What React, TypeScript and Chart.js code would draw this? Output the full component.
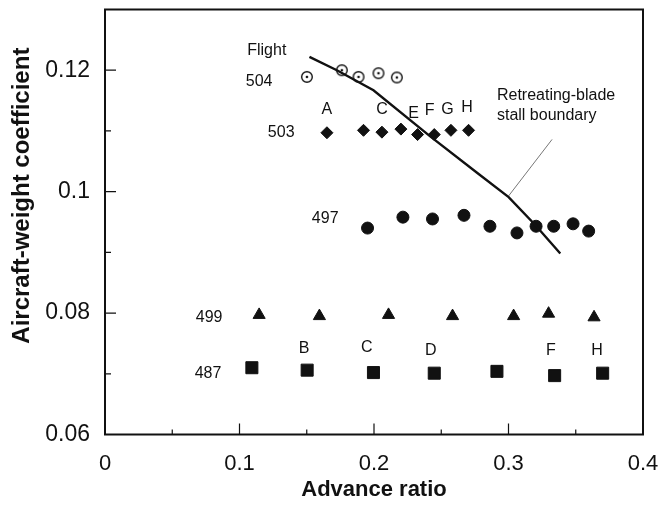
import React, { useEffect, useRef } from 'react';
import { Chart, registerables } from 'chart.js';

Chart.register(...registerables);

const FONT = "'Liberation Sans', Arial, Helvetica, sans-serif";
const INK = '#111111';

// Axis ticks
const X_TICKS = [0, 0.1, 0.2, 0.3, 0.4];
const X_TICK_LABELS = ['0', '0.1', '0.2', '0.3', '0.4'];
const X_MINOR_TICKS = [0.05, 0.15, 0.25, 0.35];
const Y_TICKS = [0.06, 0.08, 0.1, 0.12];
const Y_TICK_LABELS = ['0.06', '0.08', '0.1', '0.12'];
const Y_MINOR_TICKS = [0.07, 0.09, 0.11];

// Flight 504 (open circles with centre dot)
const F504_X = [0.1501, 0.1761, 0.1885, 0.2033, 0.217];
const F504_Y = [0.1189, 0.12, 0.1189, 0.1195, 0.1188];

// Flight 503 (diamonds)
const F503_X = [0.165, 0.1922, 0.2059, 0.22, 0.2324, 0.2448, 0.2572, 0.2703];
const F503_Y = [0.1097, 0.1101, 0.1098, 0.1103, 0.1094, 0.1094, 0.1101, 0.1101];

// Flight 497 (filled circles)
const F497_X = [0.1952, 0.2215, 0.2435, 0.2669, 0.2862, 0.3063, 0.3205, 0.3336, 0.348, 0.3596];
const F497_Y = [0.094, 0.0958, 0.0955, 0.0961, 0.0943, 0.0932, 0.0943, 0.0943, 0.0947, 0.0935];

// Flight 499 (triangles)
const F499_X = [0.1146, 0.1594, 0.2108, 0.2584, 0.3038, 0.3298, 0.3636];
const F499_Y = [0.0797, 0.0795, 0.0797, 0.0795, 0.0795, 0.0799, 0.0793];

// Flight 487 (squares)
const F487_X = [0.1092, 0.1503, 0.1996, 0.2448, 0.2914, 0.3343, 0.37];
const F487_Y = [0.071, 0.0706, 0.0702, 0.0701, 0.0704, 0.0697, 0.0701];

// Retreating-blade stall boundary
const BOUNDARY_X = [0.152, 0.1724, 0.1996, 0.2418, 0.2766, 0.3001, 0.3199, 0.3385];
const BOUNDARY_Y = [0.1222, 0.12, 0.1167, 0.1091, 0.1031, 0.0991, 0.0945, 0.0898];

// Leader line from the note to the boundary
const LEADER_X = [0.3324, 0.3001];
const LEADER_Y = [0.1086, 0.0993];

// Flight labels
const SERIES_LABELS = ['Flight', '504', '503', '497', '499', '487'];
const SERIES_LABEL_X = [0.1203, 0.1146, 0.131, 0.1637, 0.0774, 0.0766];
const SERIES_LABEL_Y = [0.1233, 0.1181, 0.1097, 0.0955, 0.0792, 0.07];

// Letters over individual points
const POINT_LETTERS = ['A', 'C', 'E', 'F', 'G', 'H', 'B', 'C', 'D', 'F', 'H'];
const POINT_LETTER_X = [0.165, 0.2059, 0.2294, 0.2413, 0.2547, 0.2691, 0.1481, 0.1947, 0.2423, 0.3316, 0.3658];
const POINT_LETTER_Y = [0.1135, 0.1135, 0.1129, 0.1134, 0.1135, 0.1139, 0.0741, 0.0743, 0.0738, 0.0739, 0.0739];

// Note
const NOTE_LINES = ['Retreating-blade', 'stall boundary'];
const NOTE_X = [0.2914, 0.2914];
const NOTE_Y = [0.1159, 0.1125];

const X_TITLE = 'Advance ratio';
const Y_TITLE = 'Aircraft-weight coefficient';

const pts = (xs: number[], ys: number[]) => xs.map((x, i) => ({ x, y: ys[i] }));

function makeDotCircle(): HTMLCanvasElement {
  const c = document.createElement('canvas');
  c.width = 16;
  c.height = 16;
  const g = c.getContext('2d')!;
  g.fillStyle = '#fff';
  g.strokeStyle = INK;
  g.lineWidth = 1.4;
  g.beginPath();
  g.arc(8, 8, 5.3, 0, Math.PI * 2);
  g.fill();
  g.stroke();
  g.fillStyle = INK;
  g.beginPath();
  g.arc(8, 8, 1.3, 0, Math.PI * 2);
  g.fill();
  return c;
}

const decorPlugin = {
  id: 'decor',
  beforeDatasetsDraw(chart: any) {
    const { ctx, chartArea: a, scales } = chart;
    const x = scales.x;
    const y = scales.y;
    ctx.save();
    ctx.strokeStyle = INK;
    ctx.lineWidth = 2;
    ctx.strokeRect(a.left, a.top, a.right - a.left, a.bottom - a.top);
    ctx.lineWidth = 1.2;
    ctx.beginPath();
    X_TICKS.forEach((v) => {
      const p = x.getPixelForValue(v);
      ctx.moveTo(p, a.bottom);
      ctx.lineTo(p, a.bottom - 11);
    });
    X_MINOR_TICKS.forEach((v) => {
      const p = x.getPixelForValue(v);
      ctx.moveTo(p, a.bottom);
      ctx.lineTo(p, a.bottom - 5);
    });
    Y_TICKS.forEach((v) => {
      const p = y.getPixelForValue(v);
      ctx.moveTo(a.left, p);
      ctx.lineTo(a.left + 11, p);
    });
    Y_MINOR_TICKS.forEach((v) => {
      const p = y.getPixelForValue(v);
      ctx.moveTo(a.left, p);
      ctx.lineTo(a.left + 6, p);
    });
    ctx.stroke();
    ctx.restore();
  },
  afterDatasetsDraw(chart: any) {
    const { ctx, chartArea: a, scales } = chart;
    const x = scales.x;
    const y = scales.y;
    ctx.save();
    ctx.fillStyle = INK;
    ctx.font = `16px ${FONT}`;
    ctx.textAlign = 'center';
    ctx.textBaseline = 'middle';
    SERIES_LABELS.forEach((t, i) => {
      ctx.fillText(t, x.getPixelForValue(SERIES_LABEL_X[i]), y.getPixelForValue(SERIES_LABEL_Y[i]));
    });
    POINT_LETTERS.forEach((t, i) => {
      ctx.fillText(t, x.getPixelForValue(POINT_LETTER_X[i]), y.getPixelForValue(POINT_LETTER_Y[i]));
    });
    ctx.textAlign = 'left';
    NOTE_LINES.forEach((t, i) => {
      ctx.fillText(t, x.getPixelForValue(NOTE_X[i]), y.getPixelForValue(NOTE_Y[i]));
    });
    // rotated y-axis title
    ctx.font = `bold 24px ${FONT}`;
    ctx.textAlign = 'center';
    ctx.translate(y.left + 22, a.top + (a.bottom - a.top) * 0.438);
    ctx.rotate(-Math.PI / 2);
    ctx.fillText(Y_TITLE, 0, 0);
    ctx.restore();
  },
};

export default function App() {
  const ref = useRef<HTMLCanvasElement>(null);
  useEffect(() => {
    const dotCircle = makeDotCircle();
    const chart = new Chart(ref.current as HTMLCanvasElement, {
      type: 'scatter',
      data: {
        datasets: [
          {
            label: 'Stall boundary',
            data: pts(BOUNDARY_X, BOUNDARY_Y),
            showLine: true,
            borderColor: INK,
            borderWidth: 2.4,
            pointRadius: 0,
            tension: 0,
          } as any,
          {
            label: 'Leader',
            data: pts(LEADER_X, LEADER_Y),
            showLine: true,
            borderColor: '#777777',
            borderWidth: 1,
            pointRadius: 0,
          } as any,
          {
            label: '504',
            data: pts(F504_X, F504_Y),
            pointStyle: dotCircle,
            pointRadius: 6,
          },
          {
            label: '503',
            data: pts(F503_X, F503_Y),
            pointStyle: 'rectRot',
            pointRadius: 6,
            backgroundColor: INK,
            borderColor: INK,
            borderWidth: 1,
          },
          {
            label: '497',
            data: pts(F497_X, F497_Y),
            pointStyle: 'circle',
            pointRadius: 6,
            backgroundColor: INK,
            borderColor: INK,
            borderWidth: 1,
          },
          {
            label: '499',
            data: pts(F499_X, F499_Y),
            pointStyle: 'triangle',
            pointRadius: 7,
            backgroundColor: INK,
            borderColor: INK,
            borderWidth: 1,
          },
          {
            label: '487',
            data: pts(F487_X, F487_Y),
            pointStyle: 'rect',
            pointRadius: 8.5,
            backgroundColor: INK,
            borderColor: INK,
            borderWidth: 1,
          },
        ],
      },
      options: {
        responsive: false,
        animation: false,
        devicePixelRatio: 1,
        layout: { padding: { left: 0, top: 8, right: 16, bottom: 0 } },
        plugins: {
          legend: { display: false },
          tooltip: { enabled: false },
        },
        scales: {
          x: {
            type: 'linear',
            position: 'bottom',
            min: 0,
            max: 0.4,
            afterBuildTicks: (s: any) => {
              s.ticks = X_TICKS.map((v) => ({ value: v }));
            },
            afterFit: (s: any) => {
              s.height = 75.5;
              s.paddingLeft = 0;
              s.paddingRight = 0;
            },
            grid: { display: false, drawTicks: false },
            border: { display: false },
            ticks: {
              callback: (_v: any, i: number) => X_TICK_LABELS[i],
              font: { family: FONT, size: 22 },
              color: INK,
              padding: 16,
              maxRotation: 0,
              autoSkip: false,
            },
            title: {
              display: true,
              text: X_TITLE,
              font: { family: FONT, size: 22, weight: 'bold' },
              color: INK,
              padding: { top: 0, bottom: 7 },
            },
          },
          y: {
            type: 'linear',
            min: 0.06,
            max: 0.13,
            afterBuildTicks: (s: any) => {
              s.ticks = Y_TICKS.map((v) => ({ value: v }));
            },
            afterFit: (s: any) => {
              s.width = 105;
              s.paddingTop = 0;
              s.paddingBottom = 0;
            },
            grid: { display: false, drawTicks: false },
            border: { display: false },
            ticks: {
              callback: (_v: any, i: number) => Y_TICK_LABELS[i],
              font: { family: FONT, size: 23 },
              color: INK,
              padding: 15,
              autoSkip: false,
            },
          },
        },
      } as any,
      plugins: [decorPlugin],
    });
    return () => chart.destroy();
  }, []);

  return (
    <div style={{ position: 'fixed', left: 0, top: 0, width: 659, height: 510, background: '#ffffff' }}>
      <canvas ref={ref} width={659} height={510} style={{ display: 'block' }} />
    </div>
  );
}
